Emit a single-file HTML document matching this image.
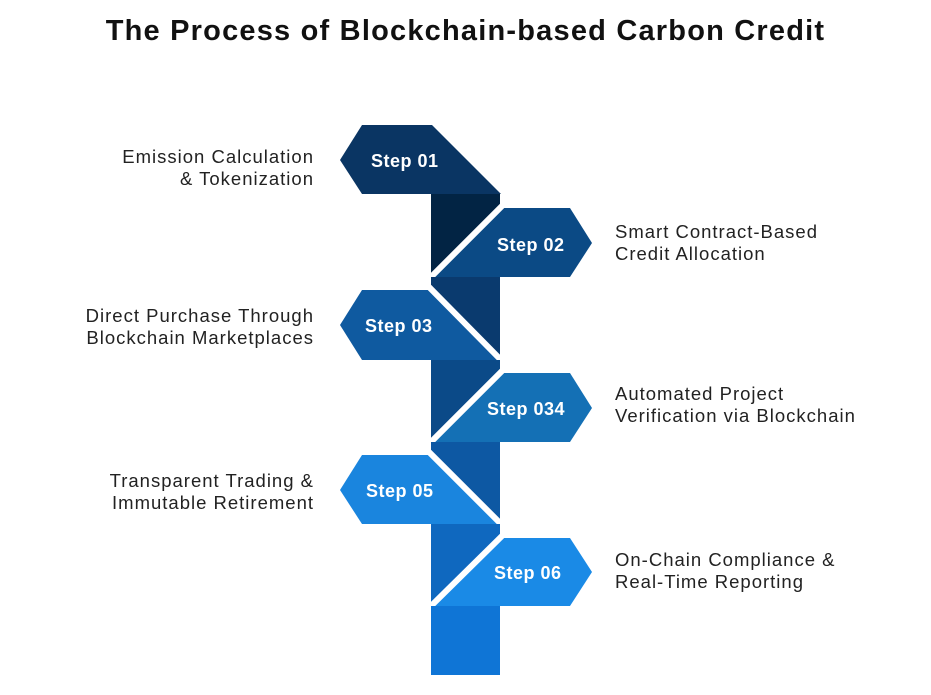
<!DOCTYPE html>
<html><head><style>
body{margin:0;background:#fff;}
.w{position:relative;width:931px;height:695px;overflow:hidden;font-family:"Liberation Sans",sans-serif;}
h1{position:absolute;top:15px;left:0;width:931px;text-align:center;margin:0;font-size:29px;letter-spacing:1.2px;font-weight:bold;color:#111;}
.l,.r{position:absolute;font-size:18.5px;letter-spacing:1px;color:#222;line-height:22px;}
.l{right:617px;text-align:right;}
.r{left:615px;}
svg text{font-family:"Liberation Sans",sans-serif;font-weight:bold;font-size:18px;letter-spacing:0.5px;fill:#fff;}
</style></head><body><div class="w">
<h1>The Process of Blockchain-based Carbon Credit</h1>
<svg width="931" height="695" style="position:absolute;left:0;top:0">
<rect x="431" y="194" width="69" height="83" fill="#022444"/>
<polygon points="340,160 362,125 432,125 501,194 362,194" fill="#0a3563"/>
<polygon points="431,277 500,208 570,208 592,243 570,277" fill="#0b4a85"/>
<line x1="431" y1="277" x2="504" y2="204" stroke="#fff" stroke-width="6"/>
<rect x="431" y="277" width="69" height="83" fill="#0a3a6e"/>
<polygon points="340,325 362,290 432,290 501,360 362,360" fill="#0f5aa0"/>
<line x1="429" y1="287" x2="503" y2="362" stroke="#fff" stroke-width="6"/>
<rect x="431" y="360" width="69" height="82" fill="#0b4a88"/>
<polygon points="431,442 500,373 570,373 592,408 570,442" fill="#1470b5"/>
<line x1="431" y1="442" x2="504" y2="369" stroke="#fff" stroke-width="6"/>
<rect x="431" y="442" width="69" height="82" fill="#0d58a3"/>
<polygon points="340,490 362,455 432,455 501,524 362,524" fill="#1a85de"/>
<line x1="429" y1="452" x2="503" y2="526" stroke="#fff" stroke-width="6"/>
<rect x="431" y="524" width="69" height="82" fill="#0f68bf"/>
<polygon points="431,606 500,538 570,538 592,572 570,606" fill="#1a8ae6"/>
<line x1="431" y1="606" x2="504" y2="534" stroke="#fff" stroke-width="6"/>
<rect x="431" y="606" width="69" height="69" fill="#0f75d6"/>
<text x="371" y="167">Step 01</text>
<text x="497" y="251">Step 02</text>
<text x="365" y="332">Step 03</text>
<text x="487" y="415">Step 034</text>
<text x="366" y="497">Step 05</text>
<text x="494" y="579">Step 06</text>
</svg>
<div class="l" style="top:146px">Emission Calculation<br>&amp; Tokenization</div>
<div class="r" style="top:221px">Smart Contract-Based<br>Credit Allocation</div>
<div class="l" style="top:305px">Direct Purchase Through<br>Blockchain Marketplaces</div>
<div class="r" style="top:383px">Automated Project<br>Verification via Blockchain</div>
<div class="l" style="top:470px">Transparent Trading &amp;<br>Immutable Retirement</div>
<div class="r" style="top:549px">On-Chain Compliance &amp;<br>Real-Time Reporting</div>
</div></body></html>
